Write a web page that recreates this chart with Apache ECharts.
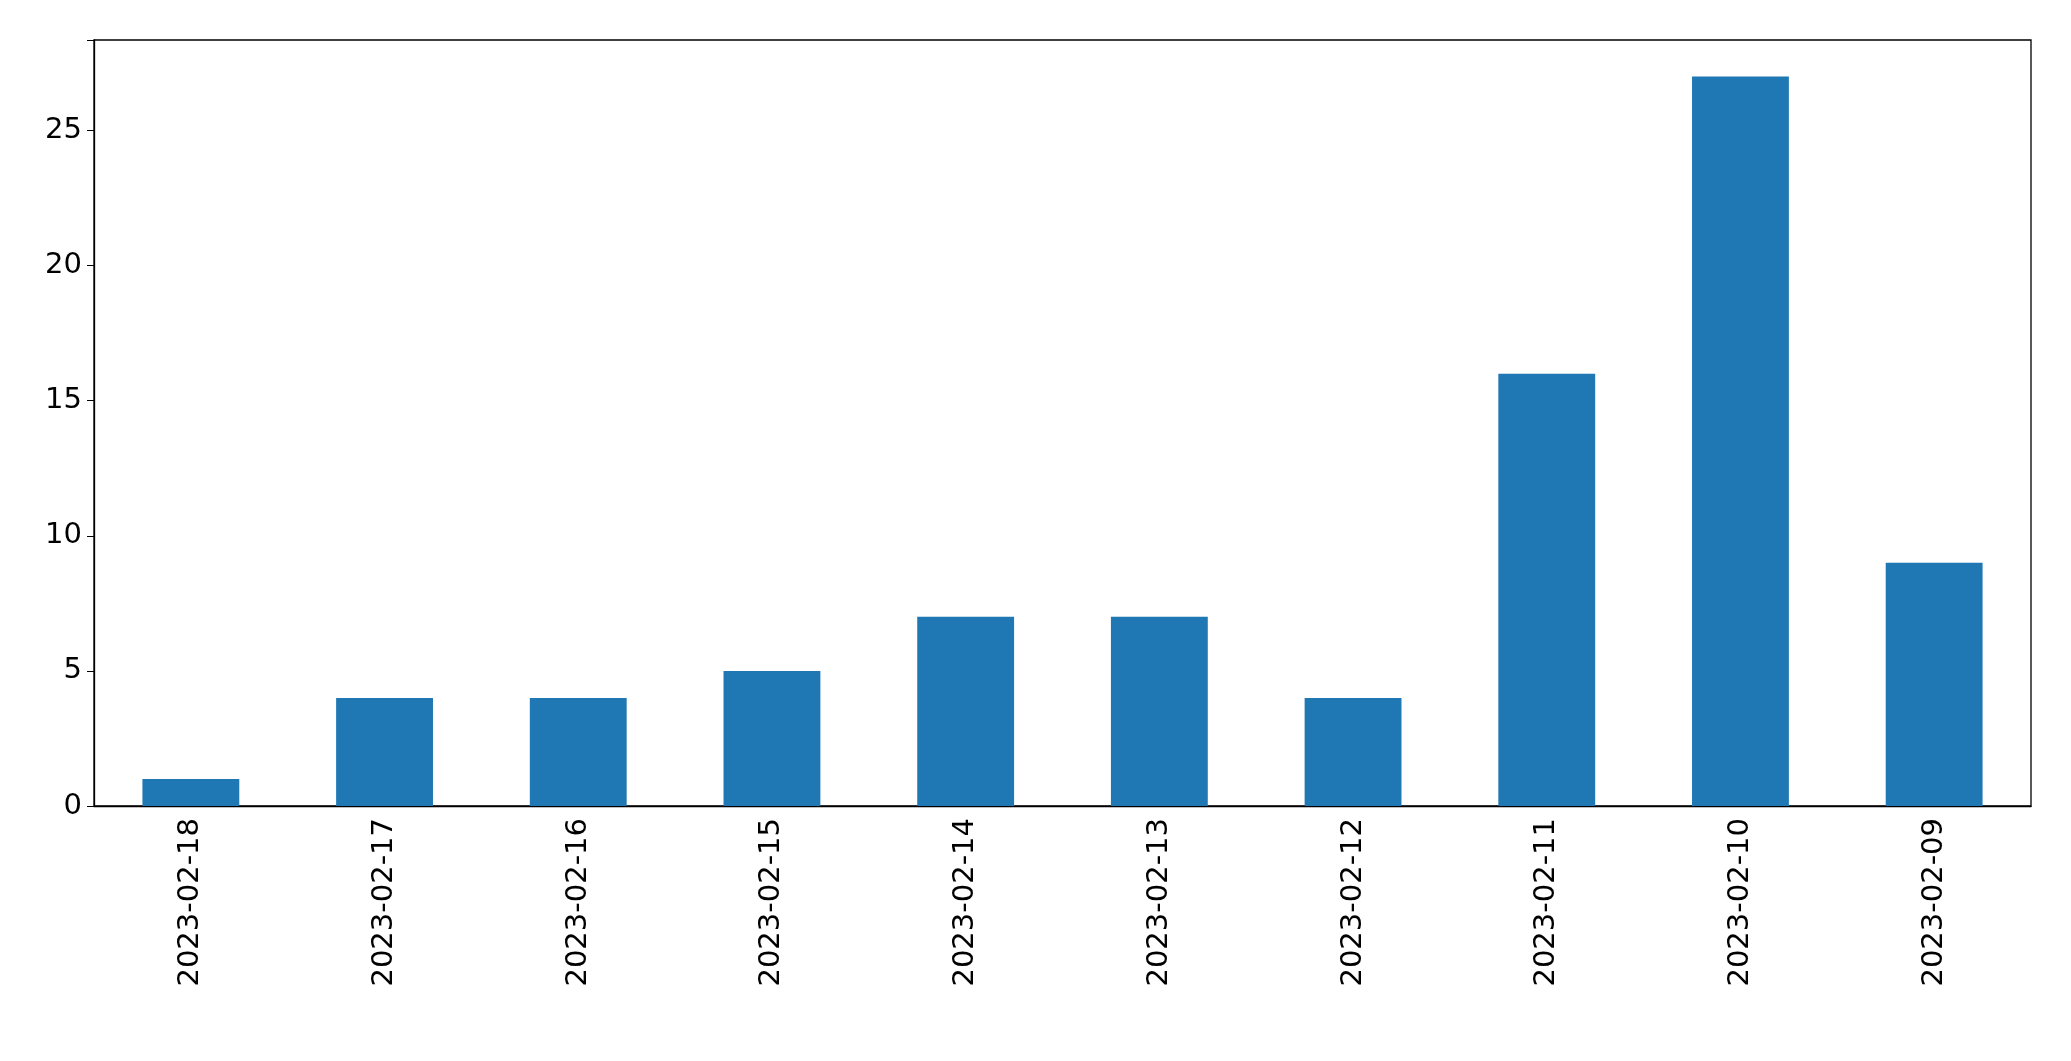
<!DOCTYPE html><html><head><meta charset="utf-8"><script src="https://cdn.jsdelivr.net/npm/echarts@6/dist/echarts.min.js"></script>
<style>html,body{margin:0;padding:0;background:#fff}#c{width:2071px;height:1061px}</style></head><body><div id="c"></div><script>
const categories=['2023-02-18','2023-02-17','2023-02-16','2023-02-15','2023-02-14','2023-02-13','2023-02-12','2023-02-11','2023-02-10','2023-02-09'];
const values=[1,4,4,5,7,7,4,16,27,9];
const chart=echarts.init(document.getElementById('c'));
const font="DejaVu Sans";
chart.setOption({animation:false,
grid:{left:94,right:40,top:40,bottom:255,show:true,borderColor:'#000',borderWidth:1.3},
xAxis:{type:'category',data:categories,axisLine:{lineStyle:{color:'#000',width:1.3}},
axisTick:{alignWithLabel:true,length:7,lineStyle:{color:'#000'}},
axisLabel:{rotate:90,color:'#000',fontSize:29,fontFamily:font,margin:12}},
yAxis:{type:'value',min:0,max:28.35,interval:5,splitLine:{show:false},
axisLine:{show:true,lineStyle:{color:'#000',width:1.3}},axisTick:{show:true,length:7,lineStyle:{color:'#000'}},
axisLabel:{color:'#000',fontSize:29,fontFamily:font,margin:12,formatter:v=>v%5===0?v:''}},
series:[{type:'bar',data:values,barWidth:'50%',itemStyle:{color:'#1f77b4'}}]});
</script></body></html>
